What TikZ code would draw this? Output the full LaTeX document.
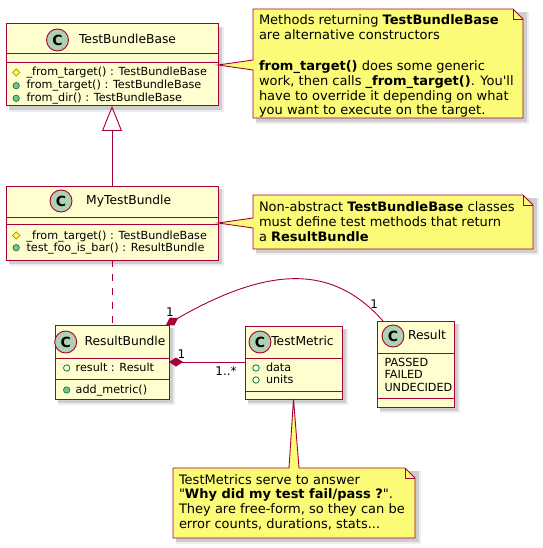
\documentclass[tikz,border=0pt]{standalone}
\usepackage{fontspec}
\newfontfamily\djv{DejaVu Sans}
\setmainfont{DejaVu Sans}
\usetikzlibrary{arrows.meta,calc}
\definecolor{umlred}{HTML}{A80036}
\definecolor{classbg}{HTML}{FEFECE}
\definecolor{notebg}{HTML}{FBFB77}
\definecolor{badge}{HTML}{ADD1B2}
\definecolor{pubfill}{HTML}{84BE84}
\definecolor{pubdraw}{HTML}{038048}
\definecolor{protfill}{HTML}{FFFF44}
\definecolor{protdraw}{HTML}{B38D22}
\newcommand\ClassBox[5]{%
  \fill[black,opacity=0.07] (#2+3,#3+3) rectangle ++(#4+3,#5+3);
  \fill[black,opacity=0.13] (#2+3,#3+3) rectangle ++(#4+1,#5+1);
  \node[classbox, minimum width=#4pt, minimum height=#5pt] (#1) at (#2,#3) {};}
\newcommand\NoteAt[5]{%
  \fill[black,opacity=0.07] (#2+3,#3+3) rectangle ++(#4+3,#5+3);
  \fill[black,opacity=0.13] (#2+3,#3+3) rectangle ++(#4+1,#5+1);
  \node[anchor=north west, minimum width=#4pt, minimum height=#5pt] (#1) at (#2,#3) {};}
\newcommand\IcoProt[2]{\filldraw[fill=protfill, draw=protdraw, line width=0.7pt] (#1,#2-3.6) -- (#1+3.6,#2) -- (#1,#2+3.6) -- (#1-3.6,#2) -- cycle;}
\newcommand\IcoMeth[2]{\filldraw[fill=pubfill, draw=pubdraw, line width=0.7pt] (#1,#2) circle (3.2pt);}
\newcommand\IcoField[2]{\draw[draw=pubdraw, line width=0.8pt] (#1,#2) circle (3.2pt);}
\begin{document}
\begin{tikzpicture}[x=1pt,y=-1pt,
  every node/.style={inner sep=0pt, outer sep=0pt},
  classbox/.style={draw=umlred, fill=classbg, line width=1pt, anchor=north west},
  sepline/.style={draw=umlred, line width=1pt},
  cbadge/.style={circle, draw=umlred, fill=badge, line width=0.9pt, minimum size=22pt, font=\djv\fontsize{14}{14}\selectfont\bfseries},
  title/.style={font=\djv\fontsize{12.3}{14}\selectfont, anchor=base},
  member/.style={font=\djv\fontsize{11.2}{13}\selectfont, anchor=base west},
  notetxt/.style={font=\djv\fontsize{13}{15}\selectfont, anchor=base west},
  lbl/.style={font=\djv\fontsize{12}{14}\selectfont},
  link/.style={draw=umlred, line width=0.9pt},
  notebody/.style={draw=umlred, fill=notebg, line width=0.9pt, line join=miter},
]
\fill[white] (0,0) rectangle (542,548);
\useasboundingbox (0,0) rectangle (542,548);

% ---------- TestBundleBase
\ClassBox{tbb}{6}{24}{212}{82}
\draw[sepline] ($(tbb.north west)+(0,30)$) -- ($(tbb.north east)+(0,30)$);
\draw[sepline] ($(tbb.north west)+(0,39)$) -- ($(tbb.north east)+(0,39)$);
\node[cbadge] (tbbC) at (57.5,40) {C};
\node[title] (tbbT) at (127.5,43.5) {TestBundleBase};
\IcoProt{16.2}{72.5}
\node[member] (tbbM1) at (26.5,76) {\_from\_target() : TestBundleBase};
\IcoMeth{16.2}{85.7}
\node[member] (tbbM2) at (26.5,89) {from\_target() : TestBundleBase};
\IcoMeth{16.2}{98.3}
\node[member] (tbbM3) at (26.5,101.7) {from\_dir() : TestBundleBase};

% ---------- MyTestBundle
\ClassBox{mtb}{6}{186}{212}{74}
\draw[sepline] ($(mtb.north west)+(0,31)$) -- ($(mtb.north east)+(0,31)$);
\draw[sepline] ($(mtb.north west)+(0,38)$) -- ($(mtb.north east)+(0,38)$);
\node[cbadge] (mtbC) at (61,201) {C};
\node[title] (mtbT) at (128.7,204.5) {MyTestBundle};
\IcoProt{16.2}{235.5}
\node[member] (mtbM1) at (26.5,239) {\_from\_target() : TestBundleBase};
\IcoMeth{16.2}{247.7}
\node[member] (mtbM2) at (26.5,251) {test\_foo\_is\_bar() : ResultBundle};

% ---------- ResultBundle
\ClassBox{rb}{55}{325}{114}{74}
\draw[sepline] ($(rb.north west)+(0,33)$) -- ($(rb.north east)+(0,33)$);
\draw[sepline] ($(rb.north west)+(0,54)$) -- ($(rb.north east)+(0,54)$);
\node[cbadge] (rbC) at (65.7,342) {C};
\node[title] (rbT) at (125,345.7) {ResultBundle};
\IcoField{66.7}{368}
\node[member] (rbA1) at (75.7,371.7) {result : Result};
\IcoMeth{66.7}{390}
\node[member] (rbM1) at (75.7,393.5) {add\_metric()};

% ---------- TestMetric
\ClassBox{tm}{245}{326}{97}{73}
\draw[sepline] ($(tm.north west)+(0,32)$) -- ($(tm.north east)+(0,32)$);
\draw[sepline] ($(tm.north west)+(0,65)$) -- ($(tm.north east)+(0,65)$);
\node[cbadge] (tmC) at (260,342) {C};
\node[title] (tmT) at (302.5,345.7) {TestMetric};
\IcoField{256}{368}
\node[member] (tmA1) at (266,371.7) {data};
\IcoField{256}{380}
\node[member] (tmA2) at (266,383.5) {units};

% ---------- Result
\ClassBox{res}{377}{321}{77}{86}
\draw[sepline] ($(res.north west)+(0,32)$) -- ($(res.north east)+(0,32)$);
\draw[sepline] ($(res.north west)+(0,77)$) -- ($(res.north east)+(0,77)$);
\node[cbadge] (resC) at (393,336) {C};
\node[title] (resT) at (427,339.5) {Result};
\node[member] (resV1) at (384.5,366) {PASSED};
\node[member] (resV2) at (384.5,378.5) {FAILED};
\node[member] (resV3) at (384.5,391) {UNDECIDED};

% ---------- connectors
\draw[link, -{Triangle[open, length=25pt, width=20pt]}] (mtb.north) -- (tbb.south);
\draw[link, dash pattern=on 7pt off 7pt] (mtb.south) -- (rb.north);
\draw[link, {Diamond[length=14pt, width=9pt]}-] (rb.east) -- (rb.east -| tm.west);
\coordinate (rbTop) at ($(rb.north east)+(-3,0)$);
\coordinate (resTop) at ($(res.north west)+(6,0)$);
\draw[link, {Diamond[length=14pt, width=9pt]}-] (rbTop) .. controls (274,263) and (335,267) .. (resTop);
\node[lbl] (lab1) at (181.5,354) {1};
\node[lbl] (lab2) at (226,371) {1..*};
\node[lbl] (lab3) at (170,311.7) {1};
\node[lbl] (lab4) at (374.3,304.3) {1};

% ---------- note 1
\NoteAt{note1}{253}{9}{270}{109}
\filldraw[notebody] (note1.north west) -- ($(note1.north east)+(-10,0)$) -- ($(note1.north east)+(0,10)$) -- (note1.south east) -- (note1.south west) -- ($(note1.north west)+(0,61)$) -- (tbb.east) -- ($(note1.north west)+(0,51)$) -- cycle;
\draw[notebody, fill=none] ($(note1.north east)+(-10,0)$) -- ($(note1.north east)+(-10,10)$) -- ($(note1.north east)+(0,10)$);
\node[notetxt] (n1l1) at (259,25) {Methods returning \textbf{TestBundleBase}};
\node[notetxt] (n1l2) at (259,40) {are alternative constructors};
\node[notetxt] (n1l3) at (259,70.3) {\textbf{from\_target()} does some generic};
\node[notetxt] (n1l4) at (259,85.2) {work, then calls \textbf{\_from\_target()}. You'll};
\node[notetxt] (n1l5) at (259,100.1) {have to override it depending on what};
\node[notetxt] (n1l6) at (259,115) {you want to execute on the target.};

% ---------- note 2
\NoteAt{note2}{253}{195}{280}{54}
\filldraw[notebody] (note2.north west) -- ($(note2.north east)+(-10,0)$) -- ($(note2.north east)+(0,10)$) -- (note2.south east) -- (note2.south west) -- ($(note2.north west)+(0,33)$) -- (mtb.east) -- ($(note2.north west)+(0,23)$) -- cycle;
\draw[notebody, fill=none] ($(note2.north east)+(-10,0)$) -- ($(note2.north east)+(-10,10)$) -- ($(note2.north east)+(0,10)$);
\node[notetxt] (n2l1) at (259,211.7) {Non-abstract \textbf{TestBundleBase} classes};
\node[notetxt] (n2l2) at (259,226.7) {must define test methods that return};
\node[notetxt] (n2l3) at (259,241.7) {a \textbf{ResultBundle}};

% ---------- note 3
\NoteAt{note3}{173}{468}{242}{70}
\filldraw[notebody] (note3.north west) -- ($(note3.north west)+(116,0)$) -- (tm.south) -- ($(note3.north west)+(126,0)$) -- ($(note3.north east)+(-10,0)$) -- ($(note3.north east)+(0,10)$) -- (note3.south east) -- (note3.south west) -- cycle;
\draw[notebody, fill=none] ($(note3.north east)+(-10,0)$) -- ($(note3.north east)+(-10,10)$) -- ($(note3.north east)+(0,10)$);
\node[notetxt] (n3l1) at (179,484) {TestMetrics serve to answer};
\node[notetxt] (n3l2) at (179,498.7) {"\textbf{Why did my test fail/pass ?}".};
\node[notetxt] (n3l3) at (179,513.3) {They are free-form, so they can be};
\node[notetxt] (n3l4) at (179,528) {error counts, durations, stats...};
\end{tikzpicture}
\end{document}
